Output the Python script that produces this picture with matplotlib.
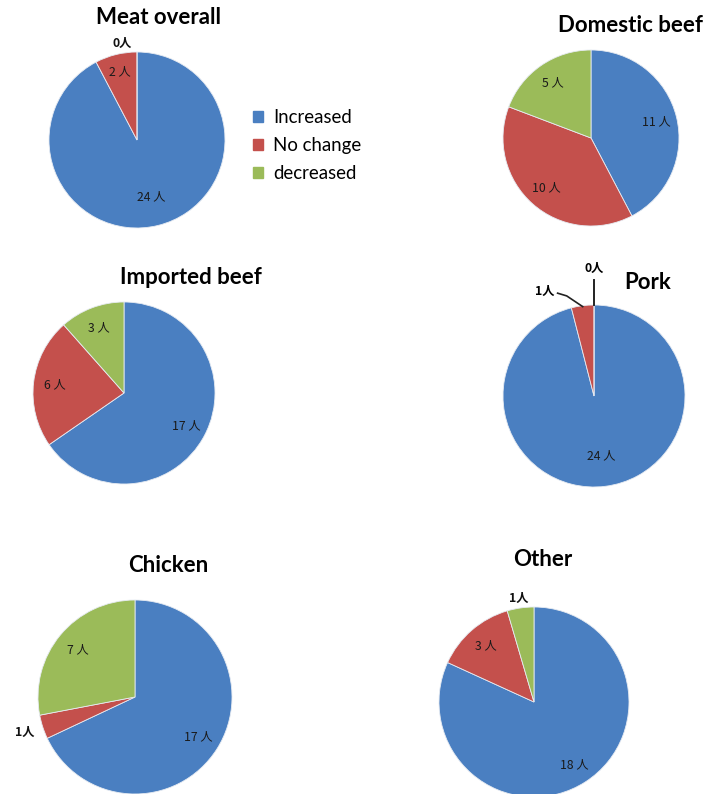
import numpy as np
import matplotlib.pyplot as plt
from matplotlib.patches import Patch

# categories and survey counts (persons)
categories = ['Increased', 'No change', 'decreased']
titles = ['Meat overall', 'Domestic beef', 'Imported beef', 'Pork', 'Chicken', 'Other']
counts = [
    [24, 2, 0],
    [11, 10, 5],
    [17, 6, 3],
    [24, 1, 0],
    [17, 1, 7],
    [18, 3, 1],
]
colors = ['#4a7fc1', '#c4504c', '#9bbb59']

W, H = 703, 794
fig = plt.figure(figsize=(W / 100, H / 100), dpi=100)

# pie centre (px), radius (px), title centre (px)
layout = [
    ((137, 140), 88, (158, 18)),
    ((591, 138), 88, (630, 25)),
    ((124, 393), 91, (191, 277)),
    ((594, 396), 91, (648, 283)),
    ((135, 697), 97, (168, 566)),
    ((534, 702), 95, (543, 560)),
]
# label radius for inside labels of each pie
inner_r = [0.66, 0.76, 0.77, 0.66, 0.77, 0.78]

cjk = ['Noto Sans CJK JP', 'DejaVu Sans']
LIM = 1.4
LFS = 8.8

for k, (vals, title) in enumerate(zip(counts, titles)):
    (cx, cy), r, (tx, ty) = layout[k]
    s = LIM * r
    ax = fig.add_axes([(cx - s) / W, 1 - (cy + s) / H, 2 * s / W, 2 * s / H])
    wedges, _ = ax.pie(vals, colors=colors, startangle=90, counterclock=False,
                       wedgeprops=dict(edgecolor='#e6ebf2', linewidth=0.6))
    ax.set_xlim(-LIM, LIM)
    ax.set_ylim(-LIM, LIM)
    ax.set_aspect('equal')
    ax.axis('off')
    fig.text(tx / W, 1 - ty / H, title, ha='center', va='center',
             fontsize=16, fontweight='bold', family='Lato')

    total = sum(vals)
    for w, v in zip(wedges, vals):
        ang = np.deg2rad((w.theta1 + w.theta2) / 2)
        ux, uy = np.cos(ang), np.sin(ang)
        share = v / total
        if share >= 0.1:
            ax.text(inner_r[k] * ux, inner_r[k] * uy, f'{v} 人', ha='center', va='center',
                    fontsize=LFS, family=cjk, color='#1a1a1a')
        elif title == 'Pork':
            # leader lines for the small slices
            if v == 0:
                ax.plot([ux, ux * 1.28], [uy, uy * 1.28], color='#222222', lw=1.4,
                        clip_on=False)
                ax.text(0, 1.4, f'{v}人', ha='center', va='center', fontsize=LFS,
                        fontweight='bold', family=cjk, clip_on=False)
            else:
                ax.plot([ux * 0.99, -0.3, -0.4], [uy * 0.99, 1.1, 1.13],
                        color='#222222', lw=1.2, clip_on=False)
                ax.text(-0.43, 1.15, f'{v}人', ha='right', va='center', fontsize=LFS,
                        fontweight='bold', family=cjk, clip_on=False)
        elif share > 0.05:
            ax.text(0.8 * ux, 0.8 * uy, f'{v} 人', ha='center', va='center',
                    fontsize=LFS, family=cjk, color='#1a1a1a')
        else:
            rr = 1.19 if title == 'Chicken' else 1.1
            ax.text(rr * ux - (0.17 if v == 0 else 0), rr * uy, f'{v}人',
                    ha='center', va='center', fontsize=LFS, fontweight='bold',
                    family=cjk, color='#111111')

handles = [Patch(facecolor=c, edgecolor=c) for c in colors]
fig.legend(handles, categories, loc='upper left', bbox_to_anchor=(236 / W, 1 - 92 / H),
           frameon=False, handlelength=0.55, handleheight=0.55,
           handletextpad=0.55, labelspacing=0.6, prop={'family': 'Lato', 'size': 13.4})

fig.savefig('out.png', dpi=100)
